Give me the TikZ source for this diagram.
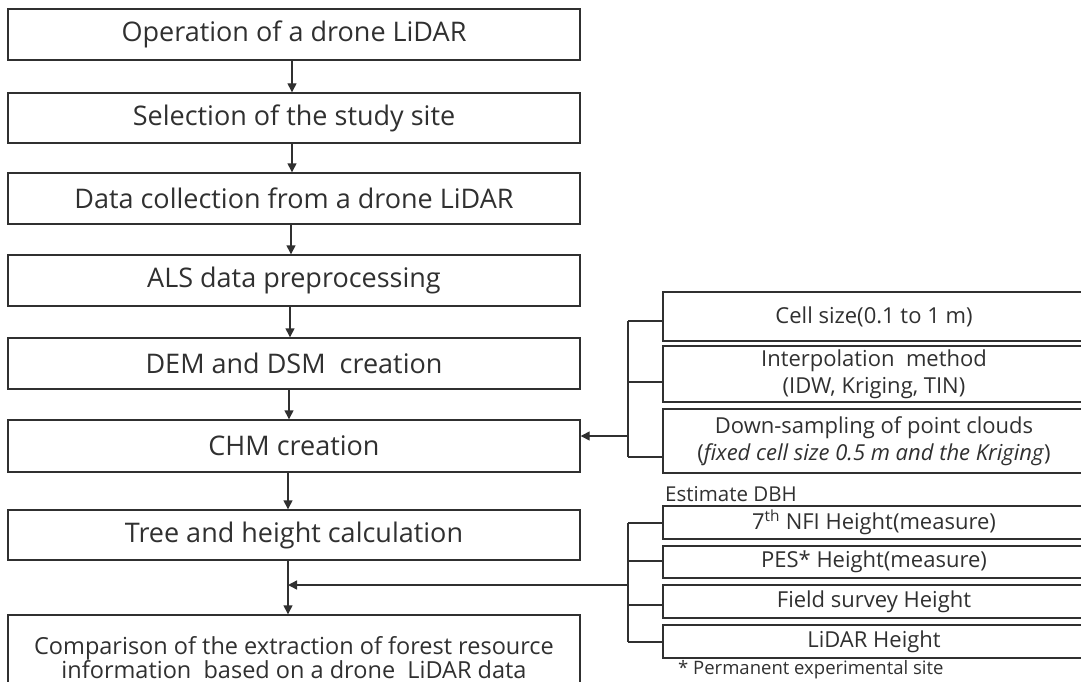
\documentclass[tikz,border=0pt]{standalone}
\usepackage{fontspec}
\setmainfont{Open Sans}
\usetikzlibrary{arrows.meta}
\definecolor{ink}{HTML}{303030}
\tikzset{
  px/.style={x=1pt,y=-1pt},
  mainbox/.style={draw=ink, line width=1.4pt, minimum width=572pt, inner sep=0pt,
    text=ink, font=\fontsize{27}{30}\selectfont, align=center},
  sidebox/.style={draw=ink, line width=1.4pt, minimum width=422pt, inner sep=0pt,
    text=ink, font=\fontsize{22}{27}\selectfont, align=center},
  flow/.style={draw=ink, line width=1.4pt, -{Triangle[length=9pt,width=9pt]}},
  wire/.style={draw=ink, line width=1.4pt},
  note/.style={text=ink, inner sep=0pt, anchor=west},
  cmpline/.style={text=ink, inner sep=0pt, anchor=base, font=\fontsize{23.5}{28}\selectfont}
}
\begin{document}
\begin{tikzpicture}[px]
\useasboundingbox (0,0) rectangle (1081,682);
\begin{scope}
\clip (0,0) rectangle (1081,682);
% main flow
\node[mainbox, minimum height=51pt] (op)   at (294,34.5)  {Operation of a drone LiDAR};
\node[mainbox, minimum height=50pt] (sel)  at (294,118)   {Selection of the study site};
\node[mainbox, minimum height=51pt] (col)  at (294,198.5) {Data collection from a drone LiDAR};
\node[mainbox, minimum height=51pt] (als)  at (294,280.5) {ALS data preprocessing};
\node[mainbox, minimum height=51pt] (dem)  at (294,363.5) {DEM and DSM\ \ creation};
\node[mainbox, minimum height=52pt] (chm)  at (294,446)   {CHM creation};
\node[mainbox, minimum height=50pt] (tree) at (294,535)   {Tree and height calculation};
\node[mainbox, minimum height=85pt] (cmp)  at (294,657.5) {};
\end{scope}
\node[cmpline] (cmp1) at (294,654) {Comparison of the extraction of forest resource};
\node[cmpline] (cmp2) at (294,678) {information\ \ based on a drone\ \ LiDAR data};

\begin{scope}
\clip (0,0) rectangle (1081,682);
% CHM parameters
\node[sidebox, minimum height=49pt] (cell)   at (874,316.5) {Cell size(0.1 to 1 m)};
\node[sidebox, minimum height=56pt] (interp) at (874,374)   {Interpolation\ \ method\\(IDW, Kriging, TIN)};
\node[sidebox, minimum height=64pt] (down)   at (874,441)   {Down-sampling of point clouds\\(\textit{fixed cell size 0.5 m and the Kriging})};

% height sources
\node[sidebox, minimum height=33pt] (nfi)   at (874,522.5) {7\textsuperscript{th} NFI Height(measure)};
\node[sidebox, minimum height=32pt] (pes)   at (874,562)   {PES* Height(measure)};
\node[sidebox, minimum height=33pt] (field) at (874,601.5) {Field survey Height};
\node[sidebox, minimum height=33pt] (lidar) at (874,641.5) {LiDAR Height};
\end{scope}
\node[note, font=\fontsize{20.5}{22}\selectfont] (dbh) at (665,494) {Estimate DBH};
\node[note, font=\fontsize{18.5}{20}\selectfont] (fn) at (678,670) {* Permanent experimental site};

% vertical flow
\draw[flow] (op.south -| 292,0)   -- (sel.north -| 292,0);
\draw[flow] (sel.south -| 292,0)  -- (col.north -| 292,0);
\draw[flow] (col.south -| 291,0)  -- (als.north -| 291,0);
\draw[flow] (als.south -| 290,0)  -- (dem.north -| 290,0);
\draw[flow] (dem.south -| 289,0)  -- (chm.north -| 289,0);
\draw[flow] (chm.south -| 288,0)  -- (tree.north -| 288,0);
\draw[flow] (tree.south -| 288,0) -- (cmp.north -| 288,0);

% bracket into CHM creation
\coordinate (ua) at (628,321);
\coordinate (ub) at (628,382);
\coordinate (uc) at (628,457);
\coordinate (uj) at (628,436);
\draw[wire] (ua) -- (uc);
\draw[wire] (ua) -- (cell.west |- ua);
\draw[wire] (ub) -- (interp.west |- ub);
\draw[wire] (uc) -- (down.west |- uc);
\draw[flow] (uj) -- (chm.east |- uj);

% bracket into the comparison step
\coordinate (la) at (628,523);
\coordinate (lb) at (628,561);
\coordinate (lc) at (628,605);
\coordinate (ld) at (628,642);
\coordinate (lj) at (628,585);
\coordinate (lm) at (288,585);
\draw[wire] (la) -- (ld);
\draw[wire] (la) -- (nfi.west |- la);
\draw[wire] (lb) -- (pes.west |- lb);
\draw[wire] (lc) -- (field.west |- lc);
\draw[wire] (ld) -- (lidar.west |- ld);
\draw[flow] (lj) -- (lm);
\end{tikzpicture}
\end{document}
